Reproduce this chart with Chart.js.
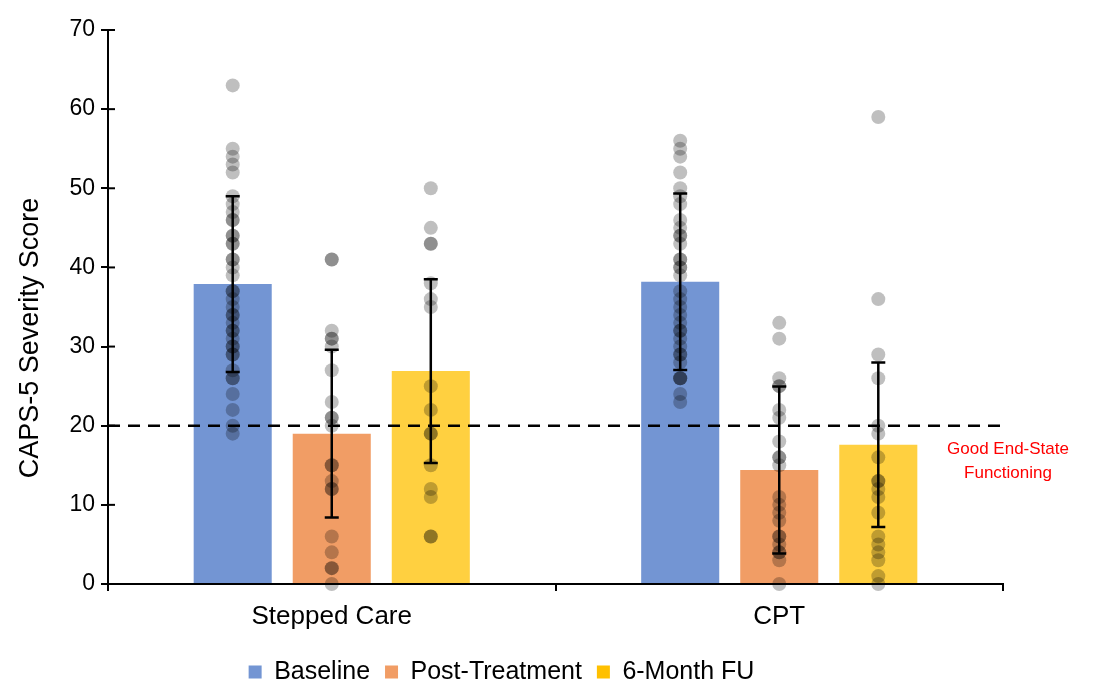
<!DOCTYPE html>
<html>
<head>
<meta charset="utf-8">
<script src="https://cdn.jsdelivr.net/npm/chart.js@4.4.1/dist/chart.umd.min.js"></script>
<style>
  html, body { margin: 0; padding: 0; background: #ffffff; }
  #wrap { width: 1099px; height: 682px; position: relative; }
</style>
</head>
<body>
<div id="wrap"><canvas id="chart"></canvas></div>
<script>
// Groups and time points
const categories = ['Stepped Care', 'CPT'];
const seriesNames = ['Baseline', 'Post-Treatment', '6-Month FU'];

// Group means (bars) and standard deviations (error bars)
const baselineMeans = [37.9, 38.2];
const postMeans = [19.0, 14.4];
const followUpMeans = [26.9, 17.6];
const baselineSD = [11.1, 11.15];
const postSD = [10.6, 10.55];
const followUpSD = [11.6, 10.4];

// Individual CAPS-5 scores
const steppedBaselineScores = [63, 55, 54, 53, 52, 49, 48, 47, 46, 46, 44, 44, 43, 43, 41, 41, 40, 39, 37, 37, 36, 35, 34, 34, 33, 32, 32, 31, 30, 30, 29, 29, 27, 26, 26, 24, 22, 20, 19];
const steppedPostScores = [41, 41, 32, 31, 31, 30, 27, 23, 21, 21, 20, 15, 15, 13, 12, 12, 6, 4, 2, 2, 0];
const steppedFollowUpScores = [50, 45, 43, 43, 38, 36, 35, 25, 22, 19, 19, 15, 12, 11, 6, 6];
const cptBaselineScores = [56, 55, 54, 52, 50, 49, 48, 46, 45, 44, 44, 43, 41, 41, 40, 40, 39, 37, 36, 35, 34, 33, 32, 32, 31, 30, 29, 29, 28, 26, 26, 26, 24, 23];
const cptPostScores = [33, 31, 26, 25, 25, 22, 21, 18, 16, 16, 15, 11, 10, 9, 8, 6, 6, 5, 4, 4, 3, 0];
const cptFollowUpScores = [59, 36, 29, 26, 20, 19, 16, 13, 13, 12, 11, 9, 6, 5, 4, 3, 1, 0];

// Axis range and threshold
const yMin = 0, yMax = 70, yStep = 10;
const goodEndStateCutoff = 20;
const cutoffLabel = ['Good End-State', 'Functioning'];
const yAxisTitle = 'CAPS-5 Severity Score';

const FONT = "'Liberation Sans', Arial, sans-serif";
const barColors = ['#7395D3', '#F19D65', '#FFD040'];
const legendColors = ['#7395D3', '#F19D65', '#FFC000'];

const datasets = [
  { label: seriesNames[0], data: baselineMeans, sd: baselineSD, scores: [steppedBaselineScores, cptBaselineScores] },
  { label: seriesNames[1], data: postMeans, sd: postSD, scores: [steppedPostScores, cptPostScores] },
  { label: seriesNames[2], data: followUpMeans, sd: followUpSD, scores: [steppedFollowUpScores, cptFollowUpScores] }
].map((d, i) => Object.assign(d, {
  backgroundColor: barColors[i],
  borderWidth: 0,
  categoryPercentage: 0.664,
  barPercentage: 0.788
}));

// Cutoff line, individual scores, error bars and annotation text
const overlayPlugin = {
  id: 'overlay',
  afterDatasetsDraw(chart) {
    const { ctx, chartArea, scales: { y } } = chart;
    ctx.save();

    // dashed threshold line
    const yc = y.getPixelForValue(goodEndStateCutoff);
    ctx.strokeStyle = '#000';
    ctx.lineWidth = 2.5;
    ctx.setLineDash([12, 8]);
    ctx.beginPath();
    ctx.moveTo(chartArea.left, yc);
    ctx.lineTo(chartArea.right, yc);
    ctx.stroke();
    ctx.setLineDash([]);

    // individual scores
    ctx.fillStyle = 'rgba(0,0,0,0.25)';
    chart.data.datasets.forEach((ds, i) => {
      const meta = chart.getDatasetMeta(i);
      meta.data.forEach((bar, j) => {
        ds.scores[j].forEach(v => {
          ctx.beginPath();
          ctx.arc(bar.x, y.getPixelForValue(v), 7, 0, Math.PI * 2);
          ctx.fill();
        });
      });
    });

    // error bars (mean ± SD)
    ctx.strokeStyle = '#000';
    ctx.lineWidth = 2.5;
    chart.data.datasets.forEach((ds, i) => {
      const meta = chart.getDatasetMeta(i);
      meta.data.forEach((bar, j) => {
        const m = ds.data[j], s = ds.sd[j];
        const top = y.getPixelForValue(m + s), bot = y.getPixelForValue(m - s);
        ctx.beginPath();
        ctx.moveTo(bar.x, top); ctx.lineTo(bar.x, bot);
        ctx.moveTo(bar.x - 7, top); ctx.lineTo(bar.x + 7, top);
        ctx.moveTo(bar.x - 7, bot); ctx.lineTo(bar.x + 7, bot);
        ctx.stroke();
      });
    });

    // threshold annotation
    ctx.fillStyle = '#FF0000';
    ctx.font = '17px ' + FONT;
    ctx.textAlign = 'center';
    ctx.textBaseline = 'middle';
    cutoffLabel.forEach((t, k) => ctx.fillText(t, chartArea.right + 5, yc + 24 + k * 24));

    ctx.restore();
  },
  afterDraw(chart) {
    const { ctx, chartArea, scales: { y } } = chart;
    ctx.save();
    // inner half of the cross tick marks on the value axis
    ctx.strokeStyle = '#000';
    ctx.lineWidth = 2;
    y.ticks.forEach(t => {
      const py = y.getPixelForValue(t.value);
      ctx.beginPath();
      ctx.moveTo(chartArea.left, py);
      ctx.lineTo(chartArea.left + 7, py);
      ctx.stroke();
    });
    // axis title
    ctx.fillStyle = '#000';
    ctx.font = '27px ' + FONT;
    ctx.textAlign = 'center';
    ctx.textBaseline = 'middle';
    ctx.translate(31, 338);
    ctx.rotate(-Math.PI / 2);
    ctx.fillText(yAxisTitle, 0, 0);
    ctx.restore();
  }
};

new Chart(document.getElementById('chart'), {
  type: 'bar',
  data: { labels: categories, datasets },
  plugins: [overlayPlugin],
  options: {
    responsive: true,
    maintainAspectRatio: false,
    animation: false,
    layout: { padding: { top: 30, right: 96, left: 0, bottom: -12.5 } },
    plugins: {
      tooltip: { enabled: false },
      legend: {
        position: 'bottom',
        labels: {
          color: '#000',
          font: { family: FONT, size: 25 },
          boxWidth: 13,
          boxHeight: 13,
          padding: 15,
          generateLabels(chart) {
            return chart.data.datasets.map((ds, i) => ({
              text: ds.label,
              fillStyle: legendColors[i],
              strokeStyle: legendColors[i],
              lineWidth: 0,
              datasetIndex: i
            }));
          }
        }
      }
    },
    scales: {
      x: {
        border: { color: '#000', width: 2 },
        grid: { drawOnChartArea: false, drawTicks: true, tickLength: 7, color: '#000', lineWidth: 2, offset: true },
        ticks: { color: '#000', font: { family: FONT, size: 26 }, padding: 10 },
        afterFit(scale) { scale.height = 60.5; }
      },
      y: {
        min: yMin, max: yMax,
        border: { color: '#000', width: 2 },
        grid: { drawOnChartArea: false, drawTicks: true, tickLength: 7, color: '#000', lineWidth: 2 },
        ticks: { stepSize: yStep, color: '#000', font: { family: FONT, size: 23 }, padding: 6 },
        afterFit(scale) { scale.width = 108; }
      }
    }
  }
});
</script>
</body>
</html>
